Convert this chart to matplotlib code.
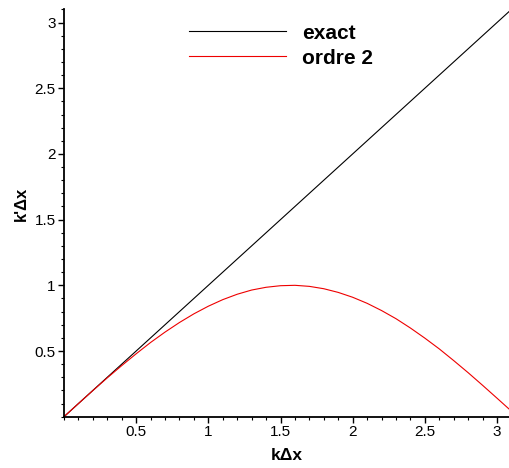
import matplotlib
matplotlib.use("Agg")
import matplotlib.pyplot as plt
from matplotlib.ticker import MultipleLocator, FixedLocator

plt.rcParams['font.family'] = ['Liberation Sans', 'DejaVu Sans']

# data
x_exact = [0.0, 3.14]
y_exact = [0.0, 3.14]
x_ordre2 = [0.0, 0.1, 0.2, 0.3, 0.4, 0.5, 0.6, 0.7, 0.8, 0.9, 1.0, 1.1, 1.2, 1.3,
            1.4, 1.5, 1.6, 1.7, 1.8, 1.9, 2.0, 2.1, 2.2, 2.3, 2.4, 2.5, 2.6, 2.7,
            2.8, 2.9, 3.0, 3.1]
y_ordre2 = [0.0, 0.100, 0.199, 0.296, 0.389, 0.479, 0.565, 0.644, 0.717, 0.783,
            0.841, 0.891, 0.932, 0.964, 0.985, 0.997, 1.000, 0.992, 0.974, 0.946,
            0.909, 0.863, 0.808, 0.746, 0.675, 0.598, 0.516, 0.427, 0.335, 0.239,
            0.141, 0.042]
labels = ["exact", "ordre 2"]
xticks = [0.5, 1, 1.5, 2, 2.5, 3]
yticks = [0.5, 1, 1.5, 2, 2.5, 3]

W, H = 510, 468
fig = plt.figure(figsize=(W / 100, H / 100), dpi=100)
left, right, bottom_px, top_px = 64, 510, 416.7, 9.4
ax = fig.add_axes([left / W, (H - bottom_px) / H, (right - left) / W, (bottom_px - top_px) / H])

ax.plot(x_exact, y_exact, color='black', lw=0.8, label=labels[0])
ax.plot(x_ordre2, y_ordre2, color='#ee0000', lw=0.8, label=labels[1])

ax.set_xlim(0, 3.09)
ax.set_ylim(0, 3.1)

for s in ['top', 'right']:
    ax.spines[s].set_visible(False)
for s in ['left', 'bottom']:
    ax.spines[s].set_linewidth(1.3)

ax.xaxis.set_major_locator(FixedLocator(xticks))
ax.yaxis.set_major_locator(FixedLocator(yticks))
ax.set_xticklabels([f"{t:g}" for t in xticks])
ax.set_yticklabels([f"{t:g}" for t in yticks])
ax.xaxis.set_minor_locator(MultipleLocator(0.1))
ax.yaxis.set_minor_locator(MultipleLocator(0.1))
ax.tick_params(which='major', direction='out', length=4.5, width=1, pad=1.5, labelsize=11)
ax.tick_params(which='minor', direction='out', length=2.5, width=0.8)

ax.set_xlabel("k\u0394x", fontsize=12.5, fontweight='bold')
ax.xaxis.set_label_coords(0.5, -(448 - bottom_px) / (bottom_px - top_px))
ax.set_ylabel("k'\u0394x", fontsize=12, fontweight='bold')
ax.yaxis.set_label_coords(-(64 - 29) / (right - left), (bottom_px - 204) / (bottom_px - top_px))

leg = ax.legend(loc='upper left', bbox_to_anchor=((181 - left) / (right - left), 1.0 - 6 / (bottom_px - top_px)),
                frameon=False, fontsize=15, handlelength=4.65, handletextpad=0.75,
                labelspacing=0.29, borderpad=0.4, borderaxespad=0.0)
for t in leg.get_texts():
    t.set_fontweight('bold')

fig.savefig("out.png", dpi=100)
